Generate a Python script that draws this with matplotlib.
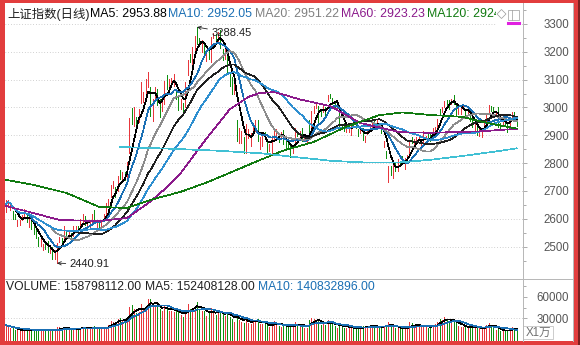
import numpy as np
import pandas as pd
import matplotlib
matplotlib.use('Agg')
import matplotlib.pyplot as plt
from matplotlib.lines import Line2D
from matplotlib.patches import Rectangle, Polygon
from matplotlib.ticker import FixedLocator

plt.rcParams['font.family'] = ['Liberation Sans', 'Noto Sans CJK SC', 'DejaVu Sans']

#======================== daily bars, Dec 2018 - Oct 2019 ========================#
opens = [
    2647, 2652, 2639, 2621, 2616, 2581, 2586, 2600, 2605, 2619, 2593, 2592, 2579, 2548, 2530, 2510, 2500, 2507, 2520, 2483,
    2497, 2461, 2446, 2528, 2530, 2535, 2541, 2546, 2548, 2537, 2567, 2571, 2564, 2590, 2605, 2577, 2583, 2590, 2612, 2592, 2589, 2578,
    2597, 2612, 2647, 2678, 2712, 2706, 2700, 2758, 2752, 2757, 2743, 2837, 2965, 2949, 2947,
    2954, 3015, 3019, 3060, 3104, 3038, 2965, 3045, 3048, 3022, 3001, 3018, 3102, 3091, 3096, 3098, 3062, 3043, 3004, 3011, 3003,
    3118, 3177, 3169, 3219, 3264, 3240, 3215, 3233, 3180, 3216, 3171, 3256, 3256, 3253, 3264, 3211, 3196, 3189, 3110, 3078, 3065,
    2956, 2885, 2882, 2874, 2877, 2892, 2873, 2910, 2922, 2954, 2870, 2866, 2898, 2871, 2847, 2847, 2894, 2904, 2900, 2893,
    2910, 2886, 2886, 2859, 2843, 2862, 2911, 2905, 2915, 2885, 2886, 2953, 2921, 2990, 3005, 3004, 2979, 2987, 2992,
    3024, 3045, 3033, 3020, 3008, 2990, 2932, 2943, 2917, 2922, 2920, 2942, 2932, 2921, 2908, 2917, 2880, 2905, 2921, 2935, 2943, 2942, 2944,
    2932, 2863, 2838, 2771, 2789, 2765, 2797, 2777, 2801, 2815, 2788, 2817, 2833, 2883, 2874, 2881, 2886, 2851, 2880, 2892, 2894, 2901,
    2893, 2921, 2930, 2986, 2993, 3010, 3023, 3024, 3018, 3043, 3015, 2981, 2987, 3003, 2990, 2983, 2979, 2963, 2928, 2925,
    2905, 2908, 2928, 2950, 2985, 3005, 2990, 2976, 2982, 2941, 2941, 2950, 2941, 2935, 2962, 2981, 2954,
]
highs = [
    2666, 2666, 2652, 2628, 2618, 2597, 2596, 2613, 2637, 2621, 2601, 2594, 2583, 2562, 2536, 2528, 2510, 2513, 2522, 2505,
    2500, 2488, 2515, 2536, 2531, 2575, 2552, 2555, 2549, 2573, 2573, 2576, 2599, 2618, 2609, 2590, 2593, 2617, 2630, 2595, 2590, 2596,
    2619, 2656, 2673, 2721, 2735, 2715, 2755, 2775, 2769, 2769, 2804, 2961, 2997, 3000, 2966,
    2996, 3090, 3055, 3103, 3129, 3075, 3032, 3075, 3065, 3029, 3036, 3096, 3117, 3102, 3106, 3120, 3063, 3044, 3029, 3016, 3092,
    3172, 3191, 3217, 3256, 3288.45, 3249, 3241, 3233, 3199, 3217, 3253, 3269, 3265, 3270, 3277, 3211, 3210, 3190, 3125, 3108, 3090,
    2956, 2926, 2915, 2893, 2940, 2921, 2908, 2945, 2955, 2954, 2894, 2906, 2912, 2875, 2869, 2893, 2925, 2923, 2910, 2912,
    2919, 2891, 2888, 2865, 2858, 2925, 2914, 2915, 2925, 2897, 2892, 2954, 2988, 3004, 3015, 3006, 2988, 3008, 3000,
    3045, 3049, 3034, 3024, 3015, 2993, 2941, 2945, 2937, 2933, 2943, 2946, 2938, 2924, 2934, 2926, 2899, 2923, 2942, 2950, 2953, 2954, 2945,
    2935, 2880, 2845, 2790, 2790, 2795, 2801, 2815, 2806, 2824, 2818, 2829, 2884, 2893, 2886, 2893, 2899, 2870, 2914, 2899, 2903, 2909,
    2925, 2930, 2958, 2993, 3000, 3024, 3028, 3025, 3032, 3043, 3016, 2997, 3000, 3013, 2993, 2994, 2988, 2969, 2944, 2930,
    2934, 2925, 2947, 2980, 3007, 3006, 3000, 2986, 3000, 2945, 2955, 2950, 2946, 2955, 2983, 2982, 2954,
]
lows = [
    2626, 2642, 2631, 2600, 2598, 2576, 2578, 2596, 2605, 2590, 2572, 2565, 2545, 2533, 2504, 2502, 2488, 2491, 2482, 2478,
    2456, 2455, 2440.91, 2516, 2517, 2533, 2527, 2539, 2532, 2537, 2556, 2547, 2564, 2585, 2578, 2572, 2572, 2590, 2596, 2558, 2572, 2575,
    2594, 2612, 2643, 2678, 2709, 2679, 2700, 2743, 2741, 2741, 2739, 2837, 2941, 2932, 2921,
    2948, 3015, 3019, 3040, 3075, 2969, 2952, 3035, 3010, 2964, 2987, 3011, 3065, 3056, 3080, 3076, 3030, 2991, 2995, 2987, 3000,
    3118, 3164, 3155, 3206, 3226, 3227, 3199, 3186, 3168, 3173, 3164, 3249, 3241, 3233, 3213, 3172, 3174, 3123, 3078, 3050, 3049,
    2880, 2873, 2872, 2838, 2838, 2892, 2862, 2905, 2917, 2878, 2852, 2861, 2887, 2838, 2844, 2833, 2888, 2893, 2877, 2889,
    2870, 2856, 2858, 2822, 2837, 2858, 2899, 2899, 2880, 2879, 2875, 2911, 2915, 2979, 2997, 2947, 2969, 2985, 2974,
    3024, 3034, 3011, 3003, 2998, 2931, 2921, 2914, 2912, 2912, 2900, 2930, 2926, 2898, 2907, 2884, 2877, 2904, 2918, 2930, 2936, 2939, 2929,
    2908, 2859, 2818, 2734, 2759, 2745, 2772, 2772, 2791, 2802, 2779, 2806, 2833, 2871, 2866, 2870, 2882, 2850, 2877, 2885, 2880, 2880,
    2890, 2913, 2927, 2974, 2983, 3003, 3005, 2996, 3011, 3013, 2970, 2977, 2978, 2996, 2964, 2977, 2953, 2929, 2920, 2902,
    2898, 2895, 2925, 2947, 2981, 2988, 2975, 2968, 2931, 2925, 2936, 2933, 2913, 2921, 2958, 2954, 2934,
]
closes = [
    2654, 2666, 2649, 2605, 2605, 2584, 2594, 2602, 2634, 2593, 2597, 2576, 2550, 2536, 2516, 2527, 2504, 2498, 2483, 2494,
    2465, 2464, 2514, 2533, 2526, 2544, 2535, 2553, 2535, 2570, 2570, 2559, 2596, 2610, 2579, 2581, 2591, 2601, 2597, 2594, 2575, 2584,
    2618, 2653, 2671, 2721, 2719, 2682, 2754, 2755, 2761, 2751, 2804, 2961, 2942, 2953, 2941,
    2994, 3027, 3054, 3102, 3106, 2969, 3026, 3060, 3026, 2990, 3022, 3096, 3090, 3091, 3101, 3104, 3043, 2997, 3022, 2994, 3091,
    3170, 3176, 3216, 3246, 3244, 3239, 3241, 3189, 3188, 3177, 3253, 3263, 3250, 3270, 3215, 3198, 3201, 3124, 3086, 3062, 3078,
    2906, 2926, 2893, 2850, 2940, 2903, 2883, 2938, 2955, 2882, 2870, 2905, 2891, 2852, 2853, 2892, 2909, 2915, 2886, 2899,
    2890, 2862, 2861, 2827, 2852, 2925, 2909, 2910, 2882, 2887, 2890, 2917, 2987, 3001, 3008, 2982, 2976, 2996, 2979,
    3044, 3043, 3015, 3005, 3011, 2933, 2928, 2915, 2917, 2930, 2942, 2937, 2931, 2901, 2924, 2886, 2899, 2923, 2937, 2944, 2941, 2952, 2932,
    2908, 2868, 2821, 2777, 2768, 2794, 2774, 2815, 2797, 2808, 2815, 2823, 2883, 2880, 2880, 2883, 2897, 2863, 2902, 2893, 2890, 2886,
    2924, 2930, 2957, 2985, 2999, 3024, 3021, 3008, 3031, 3030, 2979, 2985, 2999, 3006, 2977, 2985, 2955, 2929, 2932, 2905,
    2913, 2925, 2947, 2976.9, 3007, 2991, 2978, 2977, 2941.1, 2939, 2954, 2940, 2940, 2954.2, 2980.1, 2954.9, 2940.2,
]
# volume in units of 10k
volumes = [
    20500, 19000, 16500, 16000, 14000, 13000, 12500, 13500, 15500, 14000, 13000, 14500, 13500, 14000, 14500, 12500, 13000, 12000, 14500, 13000,
    12000, 12500, 18000, 17500, 15000, 18500, 15500, 14500, 13500, 16000, 15500, 15000, 17000, 18500, 17000, 15000, 15000, 17000, 19000, 16500, 14500, 15500,
    17000, 18500, 20500, 26000, 25500, 23500, 28500, 30500, 27500, 27000, 29000, 45500, 48500, 43500, 37500,
    38500, 49500, 45000, 48000, 56500, 57500, 45500, 49000, 47000, 42500, 40500, 47500, 46000, 40500, 40000, 39500, 41000, 39000, 35000, 32000, 39500,
    50000, 43000, 44000, 47000, 52500, 42500, 40500, 40000, 33000, 37500, 44500, 40000, 34500, 38000, 40500, 36000, 33500, 38500, 32500, 29500, 25500,
    36500, 28000, 25000, 24000, 31500, 23500, 22000, 26000, 27500, 28500, 22500, 22500, 21500, 20500, 17500, 21000, 26500, 23000, 19500, 18500,
    20000, 19500, 18000, 18500, 17500, 25500, 22000, 19000, 18500, 17000, 17000, 28000, 31000, 29500, 25500, 26500, 20000, 21500, 20000,
    27500, 24000, 22000, 19000, 17000, 23000, 18500, 17000, 17000, 17000, 17500, 16500, 15000, 16500, 17500, 19000, 17500, 19000, 20500, 19000, 18000, 18500, 17000,
    18500, 19500, 21000, 24500, 18000, 18000, 17000, 16500, 16000, 15500, 15000, 16500, 24500, 23500, 19500, 19000, 20000, 18500, 20500, 17500, 16500, 18000,
    19500, 22000, 25000, 29000, 27500, 31500, 29500, 25500, 24500, 28000, 23500, 19000, 18500, 18000, 18500, 16500, 17500, 19000, 16500, 17000,
    16000, 15500, 17500, 21000, 24000, 20000, 18000, 13200, 14600, 12800, 12100, 11928.832, 13000, 15500, 17800, 14024.2528, 15879.8112,
]

# long averages (need history before the first bar), sampled at bar index
ma60_idx = [0, 10, 23, 40, 52, 62, 69, 75, 85, 96, 104, 109, 115, 120, 126, 139, 152, 169, 182, 203, 219]
ma60_val = [2646, 2625, 2596, 2592, 2603, 2662, 2713, 2764, 2877, 2993, 3038, 3052, 3055, 3044, 3029, 3005, 2944, 2911, 2909, 2914, 2923.23]
ma120_idx = [0, 12, 26, 40, 52, 62, 75, 86, 96, 108, 119, 132, 146, 160, 170, 182, 196, 203, 210, 219]
ma120_val = [2740, 2722, 2693, 2643, 2639, 2668, 2697, 2730, 2765, 2808, 2845, 2876, 2931, 2972, 2982, 2973, 2966, 2951, 2938, 2924.16]
ma250_idx = [49, 70, 90, 110, 126, 140, 155, 168, 182, 196, 210, 219]
ma250_val = [2858, 2852, 2845, 2835, 2820, 2808, 2802, 2802, 2812, 2826, 2842, 2853]

opens, highs, lows, closes, volumes = map(np.array, (opens, highs, lows, closes, volumes))

#======================== colours ========================#
RED = '#e8373c'
GREEN = '#109010'
C_MA5 = '#000000'
C_MA10 = '#1a6fb4'
C_MA20 = '#8c8c8c'
C_MA30 = '#202020'
C_MA40 = '#2e8fd0'
C_MA60 = '#8b1a8b'
C_MA120 = '#107a10'
C_MA250 = '#40c0d4'
FRAME = '#b8b8b8'
TICK = '#555555'
LW = 0.5   # one pixel at 100 dpi

#======================== figure / axes ========================#
W, H = 580, 345
fig = plt.figure(figsize=(W / 100, H / 100), dpi=100)
fig.patch.set_facecolor('white')

def box(l, t, r, b):
    return [l / W, 1 - b / H, (r - l) / W, (b - t) / H]

def fx(x):
    return x / W

def fy(y):
    return 1 - y / H

ax = fig.add_axes(box(5, 3, 523, 279))
axv = fig.add_axes(box(5, 279, 523, 341), sharex=ax)

x = np.arange(len(closes))
up = closes >= opens
bar_col = np.where(up, RED, GREEN)

#======================== price panel ========================#
ax.vlines(x, lows, highs, colors=bar_col, lw=LW, antialiased=False, zorder=2)

s = pd.Series(closes)
short_ma = [(5, C_MA5), (10, C_MA10), (20, C_MA20), (30, C_MA30), (40, C_MA40)]
for n, c in short_ma:
    ax.plot(x, s.rolling(n, min_periods=1).mean(), color=c, lw=LW, antialiased=False, zorder=3)
ax.plot(ma60_idx, ma60_val, color=C_MA60, lw=LW, antialiased=False, zorder=3)
ax.plot(ma120_idx, ma120_val, color=C_MA120, lw=LW, antialiased=False, zorder=3)
ax.plot(ma250_idx, ma250_val, color=C_MA250, lw=LW, antialiased=False, zorder=3)

ax.set_xlim(-0.3, 221.7)
ax.set_ylim(2384, 3375)
ax.set_yticks(range(2500, 3301, 100))
ax.yaxis.set_minor_locator(FixedLocator(range(2450, 3351, 100)))
ax.grid(axis='y', which='major', ls=(0, (1, 3)), color='#a8a8a8', lw=LW)

# max / min markers
i_hi = int(np.argmax(highs))
i_lo = int(np.argmin(lows))
ax.annotate(f'{highs[i_hi]:.2f}', xy=(i_hi, highs[i_hi]), xytext=(i_hi + 6.2, highs[i_hi] - 22),
            fontsize=8, va='center', ha='left', color='#202020',
            arrowprops=dict(arrowstyle='->', lw=0.6, color='#202020', shrinkA=1, shrinkB=0, mutation_scale=6))
ax.annotate(f'{lows[i_lo]:.2f}', xy=(i_lo, lows[i_lo]), xytext=(i_lo + 5.5, lows[i_lo] - 4),
            fontsize=8, va='center', ha='left', color='#202020',
            arrowprops=dict(arrowstyle='->', lw=0.6, color='#202020', shrinkA=1, shrinkB=0, mutation_scale=6))

#======================== volume panel ========================#
axv.vlines(x, 0, volumes, colors=bar_col, lw=LW, antialiased=False, zorder=2)
vs = pd.Series(volumes)
axv.plot(x, vs.rolling(5, min_periods=1).mean(), color=C_MA5, lw=LW, antialiased=False, zorder=3)
axv.plot(x, vs.rolling(10, min_periods=1).mean(), color=C_MA10, lw=LW, antialiased=False, zorder=3)
axv.set_ylim(-1750, 85160)
axv.set_yticks([30000, 60000])
axv.yaxis.set_minor_locator(FixedLocator([15000, 45000, 75000]))
axv.axhline(30000, ls=(0, (1, 3)), color='#a8a8a8', lw=LW, zorder=1)

for a in (ax, axv):
    for sp in a.spines.values():
        sp.set_visible(False)
    a.yaxis.tick_right()
    a.tick_params(axis='x', bottom=False, labelbottom=False)
    a.tick_params(axis='y', which='major', length=3, width=LW, color='#8c8c8c',
                  labelsize=8.3, labelcolor=TICK, pad=30)
    a.tick_params(axis='y', which='minor', length=2, width=LW, color='#8c8c8c')
    for t in a.yaxis.get_major_ticks():
        t.label2.set_horizontalalignment('right')
    a.set_facecolor('white')

#======================== frames ========================#
def hline(y, x0, x1, c, lw=LW):
    fig.add_artist(Line2D([fx(x0), fx(x1)], [fy(y), fy(y)], color=c, lw=lw, antialiased=False))

def vline(xp, y0, y1, c, lw=LW):
    fig.add_artist(Line2D([fx(xp), fx(xp)], [fy(y0), fy(y1)], color=c, lw=lw, antialiased=False))

vline(523, 3, 341, FRAME)
vline(573, 3, 341, FRAME)
hline(279, 5, 573, FRAME)

# "X1万" unit box
fig.add_artist(Rectangle((fx(523), fy(339)), fx(30), 13 / H, facecolor='white', edgecolor=FRAME, lw=LW))
fig.text(fx(538), fy(333), 'X1万', fontsize=8.3, color='#707070', ha='center', va='center')

# outer red border
BORDER = '#e23d3d'
for l, t, r, b in [(0, 0, 5, 345), (0, 0, 580, 3), (574, 0, 580, 345), (0, 341, 580, 345)]:
    fig.add_artist(Rectangle((fx(l), fy(b)), fx(r - l), (b - t) / H, facecolor=BORDER, edgecolor='none'))
fig.add_artist(Rectangle((fx(578), 0), fx(2), 1, facecolor='#7a2020', edgecolor='none'))

#======================== legend lines ========================#
top_items = [
    (7, '上证指数(日线)', '#202020'),
    (90, 'MA5: 2953.88', C_MA5),
    (168, 'MA10: 2952.05', C_MA10),
    (255, 'MA20: 2951.22', '#808080'),
    (341, 'MA60: 2923.23', C_MA60),
    (427, 'MA120: 2924.16', C_MA120),
]
for xp, txt, c in top_items:
    fig.text(fx(xp), fy(14), txt, fontsize=8.9, color=c, ha='left', va='center')

# toolbar icons hide the end of the MA120 text
fig.add_artist(Rectangle((fx(496), fy(26)), fx(26), 21 / H, facecolor='white', edgecolor='none', zorder=5))
fig.add_artist(Polygon([(fx(497), fy(14)), (fx(501.5), fy(9.5)), (fx(506), fy(14)), (fx(501.5), fy(18.5))],
                       closed=True, facecolor='none', edgecolor='#9a9a9a', lw=LW, zorder=6))
fig.add_artist(Rectangle((fx(508), fy(20)), fx(11), 10 / H, facecolor='none', edgecolor='#9a9a9a', lw=LW, zorder=6))
fig.add_artist(Line2D([fx(512), fx(512)], [fy(10), fy(20)], color='#9a9a9a', lw=LW, zorder=6))
fig.add_artist(Line2D([fx(508), fx(519)], [fy(23), fy(23)], color='#e020e0', lw=2.2, zorder=6))

vol_items = [
    (6, 'VOLUME: 158798112.00', '#202020'),
    (145, 'MA5: 152408128.00', '#202020'),
    (258, 'MA10: 140832896.00', C_MA10),
]
for xp, txt, c in vol_items:
    fig.text(fx(xp), fy(287), txt, fontsize=8.7, color=c, ha='left', va='center')

fig.savefig('out.png', dpi=100, facecolor='white')
plt.close()
